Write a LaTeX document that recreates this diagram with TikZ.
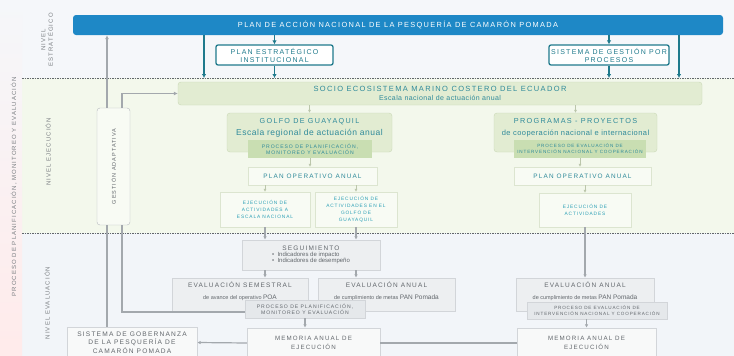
\documentclass[tikz,border=0pt]{standalone}
\usepackage{fontspec}
\setmainfont{Liberation Sans}
\newfontfamily\spc[LetterSpace=18]{Liberation Sans}
\newfontfamily\spl[LetterSpace=6]{Liberation Sans}
\usepackage{xcolor}
\usepackage{tikz}
\usetikzlibrary{positioning,calc,arrows.meta}

\definecolor{panblue}{HTML}{1E88C6}
\definecolor{tealc}{HTML}{1F7A8C}
\definecolor{tealtxt}{HTML}{2F8A9A}
\definecolor{acttxt}{HTML}{2A9FB5}
\definecolor{topbg}{HTML}{F5F7FA}
\definecolor{execbg}{HTML}{F3F8EC}
\definecolor{evalbg}{HTML}{F2F5F9}
\definecolor{gfill}{HTML}{E2ECD2}
\definecolor{gline}{HTML}{CAD8B6}
\definecolor{subfill}{HTML}{C9DEB2}
\definecolor{wfill}{HTML}{F8FBF4}
\definecolor{wline}{HTML}{DCE5D0}
\definecolor{efill}{HTML}{EDEFF1}
\definecolor{eline}{HTML}{D2D5D9}
\definecolor{esub}{HTML}{E5E8EB}
\definecolor{graytxt}{HTML}{62676C}
\definecolor{conn}{HTML}{A3A8AD}

\newcommand\fsz[2]{\fontsize{#1}{#2}\selectfont}

\tikzset{
  lvl/.style={rotate=90, text=graytxt!85, align=center, font=\spc\fsz{6}{7.5}},
  banner/.style={fill=panblue, rounded corners=3pt, text=white, font=\spc\fsz{7.4}{8},
    minimum width=650pt, minimum height=20pt},
  tealbox/.style={draw=tealc, line width=1.3pt, fill=white, rounded corners=2pt,
    text=tealc, align=center, font=\spc\fsz{7}{8}, inner sep=1pt},
  gbox/.style={draw=gline, fill=gfill, rounded corners=3pt, inner sep=0pt},
  gtitle/.style={anchor=north, yshift=-5pt, text=tealtxt, align=center, inner sep=0pt},
  subbox/.style={fill=subfill, text=tealtxt, align=center, font=\spc\fsz{4.6}{6}, inner sep=0pt},
  wbox/.style={draw=wline, fill=wfill, text=tealtxt, align=center, font=\spc\fsz{6.4}{7}, inner sep=0pt},
  actbox/.style={draw=wline, fill=wfill, text=acttxt, align=center, font=\spc\fsz{4.8}{7.2}, inner sep=0pt},
  gestbox/.style={draw=conn!80, fill=wfill, rounded corners=3pt, text=graytxt,
    font=\spc\fsz{5.5}{7}, inner sep=0pt},
  ebox/.style={draw=eline, fill=efill, text=graytxt, align=center, font=\spc\fsz{6.5}{8}, inner sep=0pt},
  etitle/.style={anchor=north, yshift=-4pt, text=graytxt, align=center, inner sep=0pt},
  esubbox/.style={draw=eline, fill=esub, text=graytxt, align=center, font=\spc\fsz{4.6}{6}, inner sep=0pt},
  mbox/.style={draw=eline, fill=white!60!efill, text=graytxt, align=center, font=\spc\fsz{6.2}{8.5}, inner sep=0pt},
  tarrow/.style={draw=tealc, line width=1.3pt, -{Latex[length=4pt,width=4.5pt]}},
  garrow/.style={draw=gline!80!gray, line width=0.8pt, -{Latex[length=3pt,width=3pt]}},
  earrow/.style={draw=conn, line width=1.2pt, -{Latex[length=3.5pt,width=3.5pt]}},
  gestline/.style={draw=conn, line width=1.6pt},
  sepline/.style={draw=graytxt, line width=0.8pt, dash pattern=on 1.5pt off 1pt}
}

\begin{document}
\begin{tikzpicture}[x=1pt,y=1pt]
    % Background bands
    \clip (0,0) rectangle (734,-356);
    \fill[topbg] (0,0) rectangle (734,-78);
    \fill[execbg] (22,-78) rectangle (734,-233);
    \fill[evalbg] (22,-233) rectangle (734,-356);
    \shade[top color=topbg, bottom color=red!8] (0,0) rectangle (22,-356);
    \draw[sepline] (22,-78) -- (734,-78);
    \draw[sepline] (22,-233) -- (734,-233);
    \coordinate (tA) at (204,-78);
    \coordinate (tB) at (679,-78);

    % Level labels
    \node[lvl] (nest) at (47,-40) {NIVEL\\ESTRATÉGICO};
    \node[lvl] (neje) at (48,-152) {NIVEL EJECUCIÓN};
    \node[lvl] (neva) at (47,-303) {NIVEL EVALUACIÓN};
    \node[lvl] (proc) at (14,-187) {PROCESO DE PLANIFICACIÓN, MONITOREO Y EVALUACIÓN};

    % Strategic level
    \node[banner] (pan) at (398,-25) {PLAN DE ACCIÓN NACIONAL DE LA PESQUERÍA DE CAMARÓN POMADA};
    \node[tealbox, minimum width=117pt, minimum height=20pt] (pei) at (274.5,-55) {PLAN ESTRATÉGICO\\INSTITUCIONAL};
    \node[tealbox, minimum width=120pt, minimum height=20pt] (sgp) at (609,-55) {SISTEMA DE GESTIÓN POR\\PROCESOS};
    \draw[tarrow] (pan.south -| pei.north) -- (pei.north);
    \draw[tarrow] (pei.south) -- (pei.south |- tA);
    \draw[tarrow] (pan.south -| tA) -- (tA);
    \draw[tarrow] (pan.south -| sgp.north) -- (sgp.north);
    \draw[tarrow] (sgp.south) -- (sgp.south |- tB);
    \draw[tarrow] (pan.south -| tB) -- (tB);

    % Execution level
    \node[gbox, minimum width=524pt, minimum height=23pt, text=tealtxt, align=center, font=\spc\fsz{7.5}{8.5}] (socio) at (440,-93.5)
      {SOCIO ECOSISTEMA MARINO COSTERO DEL ECUADOR\\{\spl\fsz{7}{8}Escala nacional de actuación anual}};
    \node[gbox, minimum width=165pt, minimum height=39pt,
      label={[gtitle]north:{\spc\fsz{7.2}{8.5}GOLFO DE GUAYAQUIL\\\spl\fsz{8.5}{9}Escala regional de actuación anual}}] (golfo) at (309.5,-132.5) {};
    \node[gbox, minimum width=163pt, minimum height=39pt,
      label={[gtitle]north:{\spc\fsz{7.3}{8.5}PROGRAMAS - PROYECTOS\\\spl\fsz{7.5}{9}de cooperación nacional e internacional}}] (prog) at (575.5,-132.5) {};
    \node[subbox, minimum width=124pt, minimum height=18pt, font=\spc\fsz{5.1}{6}] (subg) at (310,-149) {PROCESO DE PLANIFICACIÓN,\\MONITOREO Y EVALUACIÓN};
    \node[subbox, minimum width=132pt, minimum height=18pt] (subp) at (580,-149) {PROCESO DE EVALUACIÓN DE\\INTERVENCIÓN NACIONAL Y COOPERACIÓN};
    \node[wbox, minimum width=129pt, minimum height=18pt] (poal) at (312.5,-176) {PLAN OPERATIVO ANUAL};
    \node[wbox, minimum width=137pt, minimum height=18pt] (poar) at (582.5,-176) {PLAN OPERATIVO ANUAL};
    \node[actbox, minimum width=90pt, minimum height=35pt] (acta) at (265,-209.5) {EJECUCIÓN DE\\ACTIVIDADES A\\ESCALA NACIONAL};
    \node[actbox, minimum width=82pt, minimum height=35pt] (actb) at (356,-209.5) {EJECUCIÓN DE\\ACTIVIDADES EN EL\\GOLFO DE\\GUAYAQUIL};
    \node[actbox, minimum width=92pt, minimum height=34pt] (actc) at (585,-210) {EJECUCIÓN DE\\ACTIVIDADES};
    \draw[garrow] (socio.south -| golfo.north) -- (golfo.north);
    \draw[garrow] (socio.south -| prog.north) -- (prog.north);
    \draw[garrow] (subg.south) -- (subg.south |- poal.north);
    \draw[garrow] (subp.south) -- (subp.south |- poar.north);
    \draw[garrow] (poal.south -| acta.north) -- (acta.north);
    \draw[garrow] (poal.south -| actb.north) -- (actb.north);
    \draw[garrow] (poar.south -| actc.north) -- (actc.north);

    % Adaptive management
    \node[gestbox, minimum width=33pt, minimum height=117pt] (gest) at (113.5,-166.5) {\rotatebox{90}{GESTIÓN ADAPTATIVA}};

    % Evaluation level
    \node[ebox, minimum width=138pt, minimum height=30pt] (seg) at (311,-255)
      {\begin{tabular}{@{}l@{}}\multicolumn{1}{@{}c@{}}{SEGUIMIENTO}\\[-1.5pt]
       {\rmfamily\fsz{6}{6.8}\textbullet\ \ Indicadores de impacto}\\[-2pt]
       {\rmfamily\fsz{6}{6.8}\textbullet\ \ Indicadores de desempeño}\end{tabular}};
    \node[ebox, minimum width=136pt, minimum height=33pt,
      label={[etitle]north:{\spc\fsz{6.5}{8}EVALUACIÓN SEMESTRAL\\\rmfamily\fsz{5.5}{7.5}de avance del operativo {\fsz{6.5}{7.5}POA}}}] (evs) at (240,-294.5) {};
    \node[ebox, minimum width=137pt, minimum height=33pt,
      label={[etitle]north:{\spc\fsz{6.5}{8}EVALUACIÓN ANUAL\\\rmfamily\fsz{5.5}{7.5}de cumplimiento de metas {\fsz{6.5}{7.5}PAN Pomada}}}] (evl) at (386.5,-294.5) {};
    \node[ebox, minimum width=138pt, minimum height=33pt,
      label={[etitle]north:{\spc\fsz{6.5}{8}EVALUACIÓN ANUAL\\\rmfamily\fsz{5.5}{7.5}de cumplimiento de metas {\fsz{6.5}{7.5}PAN Pomada}}}] (evr) at (585,-294.5) {};
    \node[esubbox, minimum width=120pt, minimum height=18pt, font=\spc\fsz{5.1}{6}] (procl) at (305,-309) {PROCESO DE PLANIFICACIÓN,\\MONITOREO Y EVALUACIÓN};
    \node[esubbox, minimum width=140pt, minimum height=17pt] (procr) at (597,-310.5) {PROCESO DE EVALUACIÓN DE\\INTERVENCIÓN NACIONAL Y COOPERACIÓN};
    \node[mbox, minimum width=133pt, minimum height=30pt] (meml) at (313.5,-343) {MEMORIA ANUAL DE\\EJECUCIÓN};
    \node[mbox, minimum width=139pt, minimum height=30pt] (memr) at (586.5,-343) {MEMORIA ANUAL DE\\EJECUCIÓN};
    \node[mbox, minimum width=130pt, minimum height=31pt, font=\spc\fsz{6.6}{8.5}] (sis) at (132,-342.5) {SISTEMA DE GOBERNANZA\\DE LA PESQUERÍA DE\\CAMARÓN POMADA};
    \draw[earrow] (acta.south) -- (acta.south |- seg.north);
    \draw[earrow] (actb.south) -- (actb.south |- seg.north);
    \draw[earrow, line width=1.6pt] (actc.south) -- (actc.south |- evr.north);
    \draw[earrow] (seg.south -| acta.south) -- (acta.south |- evs.north);
    \draw[earrow] (seg.south -| actb.south) -- (actb.south |- evl.north);
    \draw[earrow] (procl.south) -- (procl.south |- meml.north);
    \draw[earrow] (procr.south -| memr.north) -- (memr.north);
    \draw[conn, line width=1.2pt] (memr.west) -- (meml.east);
    \draw[earrow] (meml.west) -- (sis.east);

    % Feedback lines
    \draw[gestline, -{Latex[length=4pt,width=4pt]}] ([xshift=-6.5pt]gest.north) -- ([xshift=-6.5pt]gest.north |- pan.south);
    \draw[gestline, -{Latex[length=4pt,width=4pt]}] ([xshift=8.5pt]gest.north) |- (socio.west);
    \draw[gestline] ([xshift=-6.5pt]gest.south) -- ([xshift=-6.5pt]gest.south |- sis.north);
    \draw[gestline] ([xshift=8.5pt]gest.south) |- ([yshift=-3pt]procl.west);
\end{tikzpicture}
\end{document}
